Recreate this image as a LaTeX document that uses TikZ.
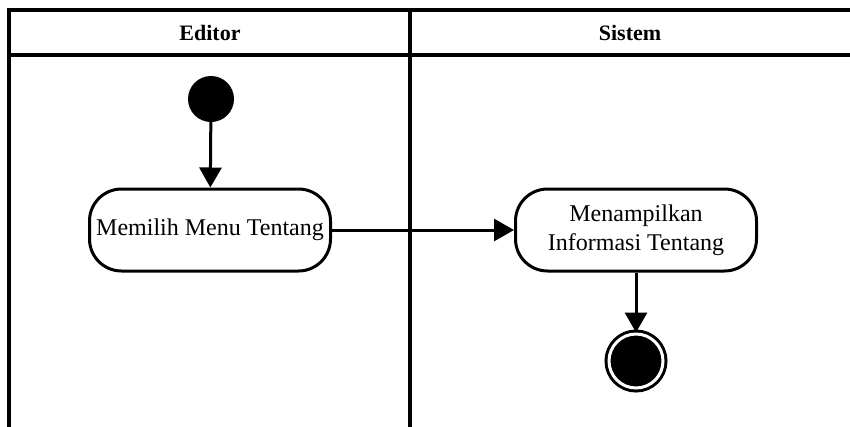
\documentclass[tikz,border=0pt]{standalone}
\usepackage{fontspec}
\setmainfont{Liberation Serif}
\usetikzlibrary{arrows.meta}
\begin{document}
\begin{tikzpicture}[x=1pt,y=-1pt,
  lane/.style={line width=3.4pt, line cap=rect},
  lanehead/.style={font=\fontsize{22}{26}\selectfont\bfseries, anchor=center},
  action/.style={draw, line width=3pt, rounded corners=32pt, align=center,
    minimum width=241pt, minimum height=82pt, inner sep=2pt,
    font=\fontsize{24}{29}\selectfont},
  startnode/.style={circle, fill=black, minimum size=46pt, inner sep=0pt},
  endnode/.style={circle, draw, line width=3pt, fill=black,
    double=white, double distance=3pt, minimum size=54pt, inner sep=0pt},
  flow/.style={line width=3pt, -{Triangle[length=20pt,width=22pt]}}]
  \useasboundingbox (0,0) rectangle (850,426);

  % swimlane frame
  \draw[lane] (9,426) -- (9,10) -- (852,10);
  \draw[lane] (9,55) -- (852,55);
  \draw[lane] (410,10) -- (410,426);
  \node[lanehead] (editor) at (210,33) {Editor};
  \node[lanehead] (sistem) at (630,33) {Sistem};

  % activities
  \node[startnode] (start) at (211,99) {};
  \node[action] (pilih) at (210,230) {Memilih Menu Tentang};
  \node[action] (tampil) at (636,230) {Menampilkan\\Informasi Tentang};
  \node[endnode] (finish) at (636,361) {};

  % control flow
  \draw[flow] (start) -- (pilih);
  \draw[flow] (pilih) -- (tampil);
  \draw[flow] (tampil) -- (finish);
\end{tikzpicture}
\end{document}
